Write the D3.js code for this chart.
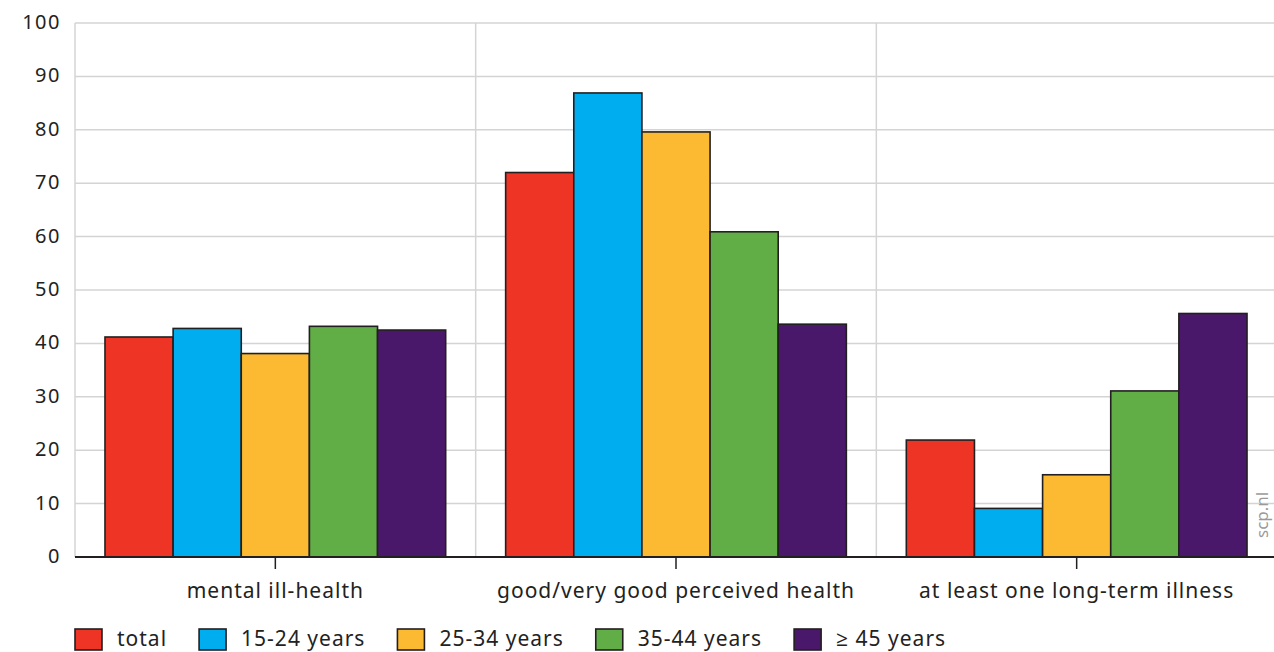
<!DOCTYPE html>
<html>
<head>
<meta charset="utf-8">
<script src="https://cdn.jsdelivr.net/npm/d3@7"></script>
<style>
  body { margin: 0; background: #fff; }
  svg text { font-family: "Noto Sans", "Open Sans", sans-serif; fill: #222; }
</style>
</head>
<body>
<div id="chart"></div>
<script>
// Chart data
const categories = ['mental ill-health', 'good/very good perceived health', 'at least one long-term illness'];
const seriesNames = ['total', '15-24 years', '25-34 years', '35-44 years', '\u2265 45 years'];
const seriesColors = ['#ee3424', '#00aeef', '#fbba31', '#61ad46', '#4a186a'];
const total = [41.2, 72.0, 21.9];
const age15to24 = [42.8, 86.9, 9.1];
const age25to34 = [38.1, 79.6, 15.4];
const age35to44 = [43.2, 60.9, 31.1];
const age45plus = [42.5, 43.6, 45.6];
const yTicks = [0, 10, 20, 30, 40, 50, 60, 70, 80, 90, 100];

const series = [total, age15to24, age25to34, age35to44, age45plus];

const width = 1274, height = 652;
const plotLeft = 75, plotRight = 1277, plotTop = 23, plotBottom = 557;

const svg = d3.select('#chart').append('svg')
    .attr('width', width)
    .attr('height', height);

const x0 = d3.scaleBand().domain(categories).range([plotLeft, plotRight]);
const x1 = d3.scaleBand().domain(d3.range(seriesNames.length))
    .range([0, x0.bandwidth()]).paddingOuter(0.44).paddingInner(0);
const y = d3.scaleLinear().domain([0, 100]).range([plotBottom, plotTop]);

// Horizontal gridlines
svg.append('g').selectAll('line')
    .data(yTicks.filter((d) => d > 0))
    .enter().append('line')
    .attr('x1', plotLeft).attr('x2', width)
    .attr('y1', (d) => y(d)).attr('y2', (d) => y(d))
    .attr('stroke', '#d4d4d4').attr('stroke-width', 1.5);

// Vertical separators between categories, plus left edge
svg.append('g').selectAll('line')
    .data(categories)
    .enter().append('line')
    .attr('x1', (d) => x0(d)).attr('x2', (d) => x0(d))
    .attr('y1', plotTop).attr('y2', plotBottom)
    .attr('stroke', '#d4d4d4').attr('stroke-width', 1.5);

// Y tick labels
svg.append('g').selectAll('text')
    .data(yTicks)
    .enter().append('text')
    .attr('x', 61).attr('y', (d) => y(d) + 6)
    .attr('text-anchor', 'end')
    .attr('font-size', 20)
    .attr('letter-spacing', 1.5)
    .text((d) => d);

// Bars
const groups = svg.append('g').selectAll('g')
    .data(categories)
    .enter().append('g')
    .attr('transform', (d) => `translate(${x0(d)},0)`);

groups.selectAll('rect')
    .data((d, ci) => series.map((s, si) => ({ si, v: s[ci] })))
    .enter().append('rect')
    .attr('x', (d) => x1(d.si))
    .attr('y', (d) => y(d.v))
    .attr('width', x1.bandwidth())
    .attr('height', (d) => y(0) - y(d.v))
    .attr('fill', (d) => seriesColors[d.si])
    .attr('stroke', '#231f20').attr('stroke-width', 1.6);

// X axis line and ticks
svg.append('line')
    .attr('x1', plotLeft).attr('x2', width)
    .attr('y1', plotBottom).attr('y2', plotBottom)
    .attr('stroke', '#231f20').attr('stroke-width', 2);

svg.append('g').selectAll('line')
    .data(categories)
    .enter().append('line')
    .attr('x1', (d) => x0(d) + x0.bandwidth() / 2)
    .attr('x2', (d) => x0(d) + x0.bandwidth() / 2)
    .attr('y1', plotBottom).attr('y2', plotBottom + 12)
    .attr('stroke', '#231f20').attr('stroke-width', 1.5);

svg.append('g').selectAll('text')
    .data(categories)
    .enter().append('text')
    .attr('x', (d) => x0(d) + x0.bandwidth() / 2)
    .attr('y', 598)
    .attr('text-anchor', 'middle')
    .attr('font-size', 21)
    .attr('letter-spacing', 1)
    .text((d) => d);

// Watermark
svg.append('text')
    .attr('transform', 'translate(1268,538) rotate(-90)')
    .attr('font-size', 17)
    .style('fill', '#9a9a9a')
    .text('scp.nl');

// Legend
const legend = svg.append('g');
let lx = 75;
seriesNames.forEach((name, i) => {
    legend.append('rect')
        .attr('x', lx).attr('y', 629)
        .attr('width', 27).attr('height', 21)
        .attr('fill', seriesColors[i])
        .attr('stroke', '#231f20').attr('stroke-width', 1.6);
    const t = legend.append('text')
        .attr('x', lx + 42).attr('y', 646)
        .attr('font-size', 21)
        .attr('letter-spacing', 1)
        .text(name);
    lx += 42 + t.node().getComputedTextLength() + 32;
});
</script>
</body>
</html>
